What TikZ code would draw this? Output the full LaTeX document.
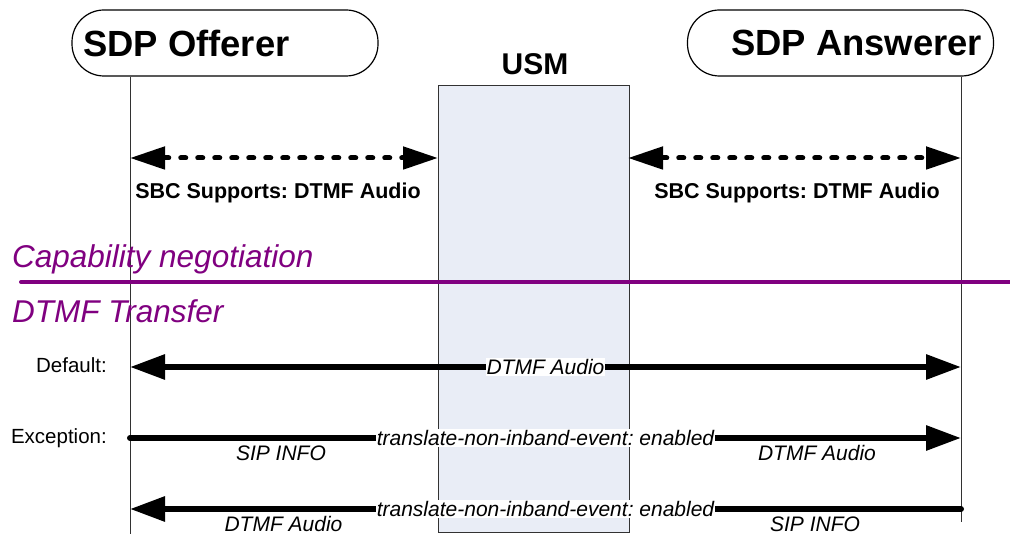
\documentclass[tikz,border=0pt]{standalone}
\usepackage{fontspec}
\setmainfont{Liberation Sans}
\usetikzlibrary{arrows.meta}
\definecolor{usmfill}{RGB}{233,237,246}
\definecolor{negpurple}{RGB}{128,0,128}
\definecolor{lifegray}{RGB}{50,50,50}
\newcommand{\fsz}[1]{\fontsize{#1}{#1}\selectfont}
\frenchspacing
\begin{document}
\begin{tikzpicture}[x=1pt,y=-1pt,
  party/.style={draw=black, line width=1.2pt, rounded corners=32pt, minimum width=306pt, minimum height=66pt, inner sep=0pt},
  titletext/.style={font=\fsz{36.4}\bfseries, inner sep=0pt},
  lifeline/.style={draw=lifegray, line width=1pt},
  dasharrow/.style={line width=5pt, line cap=round, dash pattern=on 5pt off 12pt, {Triangle[length=35pt,width=22pt]}-{Triangle[length=35pt,width=22pt]}},
  flow/.style={line width=6pt, line cap=round},
  sbclabel/.style={font=\fsz{21.5}\bfseries, inner sep=0pt, anchor=base},
  sectiontext/.style={font=\fsz{31.5}\itshape, text=negpurple, inner sep=0pt, anchor=base west},
  rowlabel/.style={font=\fsz{20.5}, inner sep=0pt, anchor=base east},
  midlabel/.style={font=\fsz{21}\itshape, fill=white, inner sep=1pt},
  sidelabel/.style={font=\fsz{21}\itshape, inner sep=0pt, anchor=base},
]
\useasboundingbox (0,0) rectangle (1010,534);
\fill[white] (0,0) rectangle (1010,534);

% USM box
\node[draw=lifegray, line width=1.2pt, fill=usmfill, minimum width=191pt, minimum height=447pt, inner sep=0pt, anchor=north west] (usmbox) at (438,85) {};
\node[font=\fsz{30}\bfseries, inner sep=0pt, anchor=base] (usmtxt) at (535,75) {USM};

% parties
\node[party] (off) at (225,43) {};
\node[titletext, anchor=west] (offtxt) at (83,43) {SDP Offerer};
\node[party] (ans) at (840.5,43) {};
\node[titletext, anchor=west] (anstxt) at (731,43) {SDP Answerer};

% lifelines
\coordinate (offBot) at (130,534);
\coordinate (ansBot) at (961,522);
\draw[lifeline] (off.south -| offBot) -- (offBot);
\draw[lifeline] (ans.south -| ansBot) -- (ansBot);

% capability arrows
\coordinate (c1a) at (130,158);
\coordinate (c1b) at (438,158);
\coordinate (c2a) at (628,158);
\coordinate (c2b) at (961,158);
\draw[dasharrow] (c1a) -- (c1b);
\draw[dasharrow] (c2a) -- (c2b);
\node[sbclabel] (sbc1) at (278,199) {SBC Supports: DTMF Audio};
\node[sbclabel] (sbc2) at (797,199) {SBC Supports: DTMF Audio};

% section divider
\node[sectiontext] (capneg) at (12,268) {Capability negotiation};
\coordinate (divL) at (21,282);
\coordinate (divR) at (1012,282);
\draw[negpurple, line width=4pt, line cap=round] (divL) -- (divR);
\node[sectiontext] (dtmft) at (12,323) {DTMF Transfer};

% row labels
\node[rowlabel] (deflbl) at (107,373) {Default:};
\node[rowlabel] (exclbl) at (107,444) {Exception:};

% default
\coordinate (d1) at (130,367);
\coordinate (d2) at (961,367);
\draw[flow, {Triangle[length=35pt,width=24pt]}-{Triangle[length=35pt,width=24pt]}] (d1) -- node[midlabel] (dmid) {DTMF Audio} (d2);

% exception 1
\coordinate (e1) at (130,438);
\coordinate (e2) at (961,438);
\draw[flow, -{Triangle[length=35pt,width=24pt]}] (e1) -- node[midlabel] (emid) {translate-non-inband-event: enabled} (e2);
\node[sidelabel] (e1l) at (281,461) {SIP INFO};
\node[sidelabel] (e1r) at (817,461) {DTMF Audio};

% exception 2
\coordinate (f1) at (961,509);
\coordinate (f2) at (130,509);
\draw[flow, -{Triangle[length=35pt,width=24pt]}] (f1) -- node[midlabel] (fmid) {translate-non-inband-event: enabled} (f2);
\node[sidelabel] (f2l) at (283.5,531) {DTMF Audio};
\node[sidelabel] (f2r) at (815,531) {SIP INFO};
\end{tikzpicture}
\end{document}
